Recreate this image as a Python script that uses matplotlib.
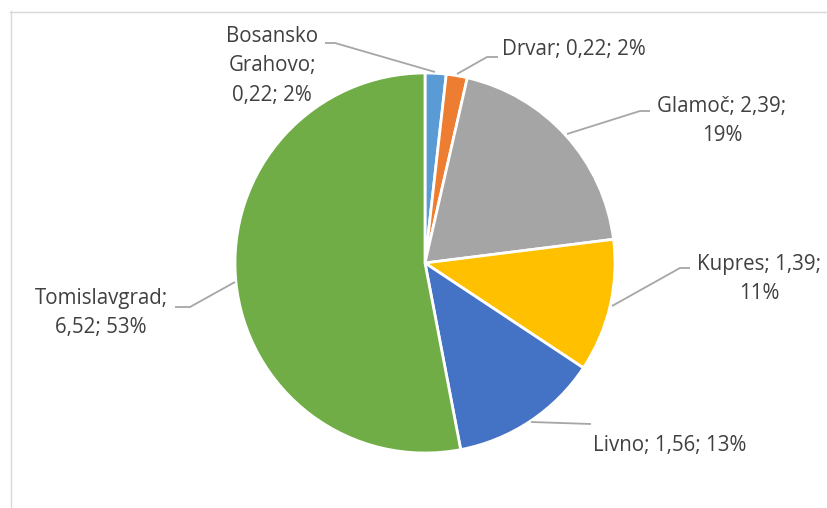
import matplotlib
matplotlib.use("Agg")
import matplotlib.pyplot as plt
from matplotlib.lines import Line2D

categories = ["Bosansko Grahovo", "Drvar", "Glamoč", "Kupres", "Livno", "Tomislavgrad"]
values = [0.22, 0.22, 2.39, 1.39, 1.56, 6.52]
percents = ["2%", "2%", "19%", "11%", "13%", "53%"]
colors = ["#5B9BD5", "#ED7D31", "#A5A5A5", "#FFC000", "#4472C4", "#70AD47"]

W, H = 827, 508
fig = plt.figure(figsize=(W / 100, H / 100), dpi=100)
plt.rcParams['font.family'] = ['Open Sans', 'DejaVu Sans']

# chart frame (light gray)
fig.add_artist(Line2D([10.5 / W, 10.5 / W], [0, 1 - 11 / H], transform=fig.transFigure, color="#D9D9D9", lw=1))
fig.add_artist(Line2D([10 / W, 1], [1 - 11.5 / H, 1 - 11.5 / H], transform=fig.transFigure, color="#D9D9D9", lw=1))

cx, cy, R = 425, 263, 190
ax = fig.add_axes([(cx - R) / W, (H - cy - R) / H, 2 * R / W, 2 * R / H])
ax.pie(values, colors=colors, startangle=90, counterclock=False, radius=1,
       wedgeprops=dict(edgecolor="white", linewidth=2))
ax.set_xlim(-1, 1)
ax.set_ylim(-1, 1)
ax.set_aspect("equal")
ax.axis("off")

def d(px, py):
    return ((px - cx) / R, (cy - py) / R)

def fmt(v):
    return f"{v:.2f}".replace(".", ",")

labels = [
    f"Bosansko\nGrahovo;\n{fmt(values[0])}; {percents[0]}",
    f"{categories[1]}; {fmt(values[1])}; {percents[1]}",
    f"{categories[2]}; {fmt(values[2])};\n{percents[2]}",
    f"{categories[3]}; {fmt(values[3])};\n{percents[3]}",
    f"{categories[4]}; {fmt(values[4])}; {percents[4]}",
    f"{categories[5]};\n{fmt(values[5])}; {percents[5]}",
]
label_pos = [(272, 66), (574, 50), (722, 121), (759, 279), (670, 446), (101, 313)]
leaders = [
    [(325, 43), (335, 43), (435, 72)],
    [(498, 57), (487, 57), (457, 74)],
    [(650, 111), (640, 111), (567, 134)],
    [(690, 268), (680, 268), (612, 306)],
    [(591, 424), (531, 422)],
    [(175, 307), (190, 307), (235, 282)],
]

for lab, (px, py) in zip(labels, label_pos):
    x, y = d(px, py)
    ax.text(x, y, lab, ha="center", va="center", multialignment="center",
            fontsize=14.8, color="#404040", linespacing=1.5, clip_on=False)

for pts in leaders:
    xs, ys = zip(*[d(px, py) for px, py in pts])
    ax.plot(xs, ys, color="#A6A6A6", lw=1.3, clip_on=False, solid_capstyle="butt")

fig.savefig("out.png", dpi=100)
